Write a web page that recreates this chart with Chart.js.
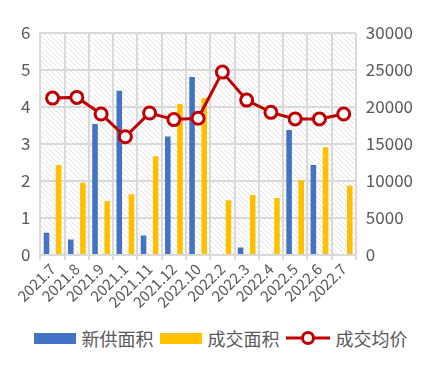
<!DOCTYPE html>
<html>
<head>
<meta charset="utf-8">
<script src="https://cdn.jsdelivr.net/npm/chart.js@4"></script>
<style>
  html, body { margin: 0; padding: 0; background: #fff; }
  #wrap { position: relative; width: 441px; height: 311px; }
  #legend {
    display: flex; justify-content: center; align-items: center;
    font-family: "Noto Sans CJK SC", sans-serif; font-size: 18px; color: #595959;
    margin-top: 14px; height: 26px;
  }
  #legend .item { display: flex; align-items: center; margin: 0 3px; }
  #legend .box { display: inline-block; width: 42px; height: 11px; margin-right: 6px; }
</style>
</head>
<body>
<div id="wrap"><canvas id="chart"></canvas></div>
<div id="legend">
  <span class="item"><span class="box" style="background:#4472c4"></span>新供面积</span>
  <span class="item"><span class="box" style="background:#ffc000"></span>成交面积</span>
  <span class="item"><svg width="44" height="16" style="margin-right:6px"><line x1="0" y1="8" x2="44" y2="8" stroke="#c00000" stroke-width="3"/><circle cx="22" cy="8" r="5.5" fill="#fff" stroke="#c00000" stroke-width="3"/></svg>成交均价</span>
</div>
<script>
// Area / price chart

const categories = ["2021.7", "2021.8", "2021.9", "2021.1", "2021.11", "2021.12", "2022.10", "2022.2", "2022.3", "2022.4", "2022.5", "2022.6", "2022.7"];
const newSupply = [0.6, 0.42, 3.54, 4.44, 0.53, 3.2, 4.81, 0, 0.2, 0, 3.38, 2.43, 0];
const dealArea = [2.43, 1.95, 1.46, 1.64, 2.67, 4.08, 4.24, 1.48, 1.62, 1.54, 2.02, 2.91, 1.87];
const avgPrice = [21200, 21300, 19060, 15980, 19190, 18300, 18480, 24720, 20930, 19280, 18390, 18390, 19060];

const leftTicks = [0, 1, 2, 3, 4, 5, 6];
const rightTicks = [0, 5000, 10000, 15000, 20000, 25000, 30000];

const fontFamily = "'Noto Sans CJK SC', sans-serif";
const gridColor = "#d9d9d9";
const tickColor = "#595959";

// hatched plot background
function makeHatch() {
  const c = document.createElement("canvas");
  c.width = 5;
  c.height = 5;
  const g = c.getContext("2d");
  g.fillStyle = "#fff";
  g.fillRect(0, 0, 5, 5);
  g.strokeStyle = "#e2e2e2";
  g.lineWidth = 1;
  g.beginPath();
  g.moveTo(0, 0); g.lineTo(5, 5);
  g.moveTo(-1, 4); g.lineTo(1, 6);
  g.moveTo(4, -1); g.lineTo(6, 1);
  g.stroke();
  return g.createPattern(c, "repeat");
}

const hatchPlugin = {
  id: "hatch",
  beforeDraw(chart) {
    const { ctx, chartArea } = chart;
    ctx.save();
    ctx.fillStyle = makeHatch();
    ctx.fillRect(chartArea.left, chartArea.top, chartArea.width, chartArea.height);
    ctx.restore();
  },
};

new Chart(document.getElementById("chart"), {
  data: {
    labels: categories,
    datasets: [
      {
        type: "line",
        label: "成交均价",
        data: avgPrice,
        yAxisID: "y1",
        borderColor: "#c00000",
        borderWidth: 3,
        pointRadius: 6,
        pointBorderWidth: 3,
        pointBackgroundColor: "#fff",
        pointBorderColor: "#c00000",
        tension: 0,
        order: 0,
      },
      {
        type: "bar",
        label: "新供面积",
        data: newSupply,
        yAxisID: "y",
        backgroundColor: "#4472c4",
        categoryPercentage: 1,
        barPercentage: 0.46,
        order: 1,
      },
      {
        type: "bar",
        label: "成交面积",
        data: dealArea,
        yAxisID: "y",
        backgroundColor: "#ffc000",
        categoryPercentage: 1,
        barPercentage: 0.46,
        order: 1,
      },
    ],
  },
  options: {
    responsive: true,
    maintainAspectRatio: false,
    animation: false,
    layout: { padding: { top: 33, left: 11, right: 18, bottom: 0 } },
    plugins: {
      legend: { display: false },
      tooltip: { enabled: false },
    },
    scales: {
      x: {
        offset: true,
        grid: { color: gridColor, lineWidth: 2, offset: true, tickLength: 5 },
        border: { color: gridColor, width: 2 },
        ticks: {
          color: tickColor,
          font: { family: fontFamily, size: 15 },
          maxRotation: 45,
          minRotation: 45,
          padding: 0,
          autoSkip: false,
        },
      },
      y: {
        position: "left",
        min: 0,
        max: 6,
        afterBuildTicks: (axis) => { axis.ticks = leftTicks.map((v) => ({ value: v })); },
        grid: { color: gridColor, lineWidth: 2, drawTicks: false },
        border: { color: gridColor, width: 2 },
        ticks: { color: tickColor, font: { family: fontFamily, size: 17 }, padding: 10 },
      },
      y1: {
        position: "right",
        min: 0,
        max: 30000,
        afterBuildTicks: (axis) => { axis.ticks = rightTicks.map((v) => ({ value: v })); },
        grid: { display: false, drawTicks: false },
        border: { display: false },
        ticks: {
          color: tickColor,
          font: { family: fontFamily, size: 17 },
          padding: 10,
          callback: (v) => String(v),
        },
      },
    },
  },
  plugins: [hatchPlugin],
});
</script>
</body>
</html>
